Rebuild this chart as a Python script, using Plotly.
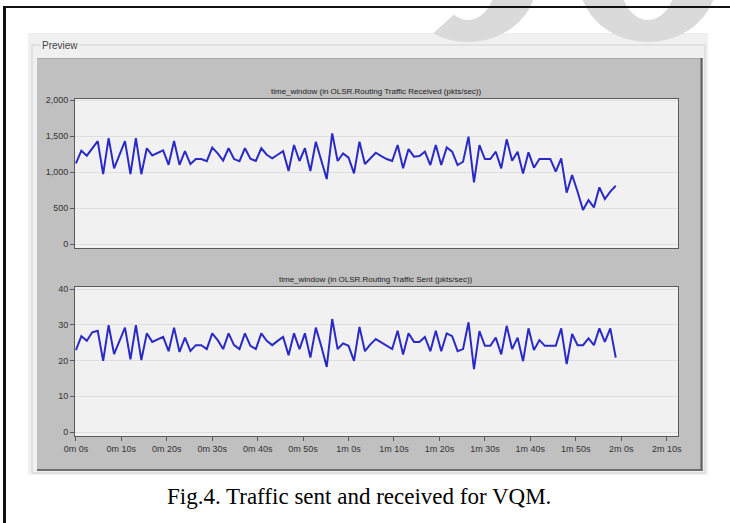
import numpy as np
import plotly.graph_objects as go

W, H = 730, 523

# ---------------- data ----------------
times_s = [0.0, 1.2, 2.4, 3.6, 4.8, 6.0, 7.2, 8.4, 9.6, 10.8,
           12.0, 13.2, 14.4, 15.6, 16.8, 18.0, 19.2, 20.4, 21.6, 22.8,
           24.0, 25.2, 26.4, 27.6, 28.8, 30.0, 31.2, 32.4, 33.6, 34.8,
           36.0, 37.2, 38.4, 39.6, 40.8, 42.0, 43.2, 44.4, 45.6, 46.8,
           48.0, 49.2, 50.4, 51.6, 52.8, 54.0, 55.2, 56.4, 57.6, 58.8,
           60.0, 61.2, 62.4, 63.6, 64.8, 66.0, 67.2, 68.4, 69.6, 70.8,
           72.0, 73.2, 74.4, 75.6, 76.8, 78.0, 79.2, 80.4, 81.6, 82.8,
           84.0, 85.2, 86.4, 87.6, 88.8, 90.0, 91.2, 92.4, 93.6, 94.8,
           96.0, 97.2, 98.4, 99.6, 100.8, 102.0, 103.2, 104.4, 105.6, 106.8,
           108.0, 109.2, 110.4, 111.6, 112.8, 114.0, 115.2, 116.4, 117.6, 118.8]

received_pkts = [1120, 1296, 1227, 1330, 1430, 970, 1470, 1050, 1240, 1430,
                 970, 1470, 970, 1330, 1230, 1270, 1300, 1100, 1430, 1100,
                 1290, 1110, 1180, 1180, 1150, 1340, 1260, 1160, 1330, 1180,
                 1150, 1330, 1185, 1153, 1330, 1240, 1190, 1240, 1290, 1014,
                 1375, 1153, 1330, 1014, 1421, 1160, 903, 1537, 1153, 1259,
                 1199, 981, 1421, 1111, 1190, 1268, 1220, 1180, 1153, 1375,
                 1051, 1319, 1213, 1222, 1282, 1097, 1375, 1097, 1342, 1282,
                 1097, 1143, 1491, 856, 1375, 1181, 1181, 1282, 1051, 1454,
                 1158, 1282, 981, 1273, 1060, 1181, 1181, 1181, 1005, 1190,
                 713, 958, 727, 472, 611, 509, 787, 625, 727, 810]

sent_pkts = [22.9, 26.8, 25.5, 27.9, 28.3, 19.9, 29.9, 21.8, 25.5, 29.2,
             20.3, 29.9, 20.1, 27.6, 25.2, 26.0, 26.6, 22.6, 29.2, 22.4,
             26.4, 22.7, 24.3, 24.3, 23.2, 27.6, 25.7, 23.2, 27.6, 24.3,
             23.2, 27.6, 24.1, 23.2, 27.6, 25.5, 24.3, 25.5, 26.6, 21.5,
             27.6, 23.2, 27.6, 20.8, 29.2, 24.0, 18.2, 31.6, 23.2, 24.8,
             24.1, 19.9, 29.4, 22.6, 24.5, 26.0, 25.0, 24.1, 23.2, 28.3,
             21.7, 27.6, 25.2, 25.2, 26.6, 22.6, 28.3, 22.6, 27.6, 26.8,
             22.6, 23.2, 30.7, 17.6, 28.2, 24.1, 24.1, 26.4, 21.7, 29.7,
             23.2, 26.4, 19.8, 29.0, 22.9, 25.7, 24.1, 24.1, 24.1, 29.0,
             19.0, 27.4, 24.3, 24.3, 26.2, 24.3, 29.0, 25.2, 29.0, 20.8]

x_tick_vals = [0, 10, 20, 30, 40, 50, 60, 70, 80, 90, 100, 110, 120, 130]
x_tick_text = ["0m 0s", "0m 10s", "0m 20s", "0m 30s", "0m 40s", "0m 50s",
               "1m 0s", "1m 10s", "1m 20s", "1m 30s", "1m 40s", "1m 50s",
               "2m 0s", "2m 10s"]
recv_tick_vals = [0, 500, 1000, 1500, 2000]
recv_tick_text = ["0", "500", "1,000", "1,500", "2,000"]
sent_tick_vals = [0, 10, 20, 30, 40]
sent_tick_text = ["0", "10", "20", "30", "40"]

title_recv = "time_window (in OLSR.Routing Traffic Received (pkts/sec))"
title_sent = "time_window (in OLSR.Routing Traffic Sent (pkts/sec))"
caption = "Fig.4. Traffic sent and received for VQM."
panel_label = "Preview"

# ---------------- helpers (pixel -> paper) ----------------
def X(px):
    return px / W

def Y(py):
    return 1 - py / H

LINE_COLOR = "#2a2ac6"
FONT = "Liberation Sans"

fig = go.Figure()
fig.add_trace(go.Scatter(x=times_s, y=received_pkts, mode="lines",
                         line=dict(color=LINE_COLOR, width=2),
                         xaxis="x", yaxis="y", showlegend=False, hoverinfo="skip"))
fig.add_trace(go.Scatter(x=times_s, y=sent_pkts, mode="lines",
                         line=dict(color=LINE_COLOR, width=2),
                         xaxis="x2", yaxis="y2", showlegend=False, hoverinfo="skip"))

x_dom = [X(75), X(678)]
top_dom = [Y(248), Y(99)]
bot_dom = [Y(436), Y(287)]
x_range = [-0.2, 132.5]

axis_common = dict(showline=True, mirror=True, linecolor="#5a5a5a", linewidth=1,
                   zeroline=False, tickfont=dict(family=FONT, size=9, color="#333333"))

shapes = []

def rect(x0, y0, x1, y1, fill, line_color=None, lw=0, layer="below"):
    return dict(type="rect", xref="paper", yref="paper", layer=layer,
                x0=X(x0), x1=X(x1), y0=Y(y1), y1=Y(y0),
                fillcolor=fill, line=dict(width=lw, color=line_color or fill))

def line(x0, y0, x1, y1, color, lw=1, layer="below"):
    return dict(type="line", xref="paper", yref="paper", layer=layer,
                x0=X(x0), x1=X(x1), y0=Y(y0), y1=Y(y1),
                line=dict(color=color, width=lw))

# light frame
shapes.append(rect(28, 33, 708, 475, "#f0f0f0"))
# group box outline
shapes.append(line(32, 45, 705, 45, "#d2d2d2"))
shapes.append(line(32, 45, 32, 473, "#d2d2d2"))
shapes.append(line(705, 45, 705, 473, "#d2d2d2"))
shapes.append(line(32, 473, 705, 473, "#d2d2d2"))
# dark panel
shapes.append(rect(37, 58, 703, 471, "#c0c0c0"))
shapes.append(line(37, 58.5, 703, 58.5, "#a9a9a9"))
shapes.append(line(701.5, 58, 701.5, 471, "#5e5e5e", 2))
shapes.append(line(37, 470, 703, 470, "#6e6e6e", 2))
# plot backgrounds
shapes.append(rect(75, 99, 678, 248, "#f1f1f1"))
shapes.append(rect(75, 287, 678, 436, "#f1f1f1"))

# watermark (partial glyph bottoms, top right)
def arc_pts(cx, cy, a, b, t0, t1, n=60):
    t = np.linspace(t0, t1, n)
    return [(X(cx + a * np.cos(tt)), Y(cy + b * np.sin(tt))) for tt in t]

def to_path(pts):
    return "M" + " L".join(f"{px:.5f},{py:.5f}" for px, py in pts) + " Z"

ring2 = to_path(arc_pts(648, -20, 69, 62, 0, 2 * np.pi)) + " " + \
        to_path(arc_pts(648, -20, 28, 40, 0, 2 * np.pi))
band1 = to_path(arc_pts(468, -20, 69, 62, 0.0, 2.1) +
                arc_pts(468, -20, 28, 40, 2.1, 0.0))
shapes.append(dict(type="path", xref="paper", yref="paper", layer="below",
                   path=ring2, fillcolor="#dadada", fillrule="evenodd",
                   line=dict(width=0)))
shapes.append(dict(type="path", xref="paper", yref="paper", layer="below",
                   path=band1, fillcolor="#dadada", line=dict(width=0)))

# black page border (top and left)
shapes.append(line(3, 7, 730, 7, "#111111", 2, layer="above"))
shapes.append(line(4.5, 7, 4.5, 523, "#111111", 3, layer="above"))

annotations = [
    dict(text=title_recv, xref="paper", yref="paper", x=X(376), y=Y(91),
         showarrow=False, xanchor="center", yanchor="middle",
         font=dict(family=FONT, size=8, color="#222222")),
    dict(text=title_sent, xref="paper", yref="paper", x=X(376), y=Y(279),
         showarrow=False, xanchor="center", yanchor="middle",
         font=dict(family=FONT, size=8, color="#222222")),
    dict(text=panel_label, xref="paper", yref="paper", x=X(40), y=Y(45),
         showarrow=False, xanchor="left", yanchor="middle", bgcolor="#f0f0f0",
         borderpad=1, font=dict(family=FONT, size=10, color="#444444")),
    dict(text=caption, xref="paper", yref="paper", x=X(359), y=Y(496),
         showarrow=False, xanchor="center", yanchor="middle",
         font=dict(family="Liberation Serif", size=23, color="#000000")),
]

fig.update_layout(
    width=W, height=H, margin=dict(l=0, r=0, t=0, b=0, pad=0),
    paper_bgcolor="#ffffff", plot_bgcolor="rgba(0,0,0,0)",
    showlegend=False, shapes=shapes, annotations=annotations,
    hovermode=False,
    xaxis=dict(domain=x_dom, range=x_range, anchor="y", showticklabels=False,
               ticks="", showgrid=False, automargin=False, **axis_common),
    yaxis=dict(domain=top_dom, range=[-55, 2014], anchor="x",
               tickvals=recv_tick_vals, ticktext=recv_tick_text,
               ticks="outside", ticklen=4, tickcolor="#5a5a5a", automargin=False,
               showgrid=True, gridcolor="#dedede", gridwidth=1, **axis_common),
    xaxis2=dict(domain=x_dom, range=x_range, anchor="y2",
                tickvals=x_tick_vals, ticktext=x_tick_text,
                ticks="outside", ticklen=4, tickcolor="#5a5a5a", automargin=False,
                showgrid=False, **axis_common),
    yaxis2=dict(domain=bot_dom, range=[-1.12, 40.56], anchor="x2",
                tickvals=sent_tick_vals, ticktext=sent_tick_text,
                ticks="outside", ticklen=4, tickcolor="#5a5a5a", automargin=False,
                showgrid=True, gridcolor="#dedede", gridwidth=1, **axis_common),
)

fig.write_html("out.html",
               config=dict(displayModeBar=False, staticPlot=True),
               post_script="document.body.style.margin='0';"
                           "document.body.style.overflow='hidden';")
